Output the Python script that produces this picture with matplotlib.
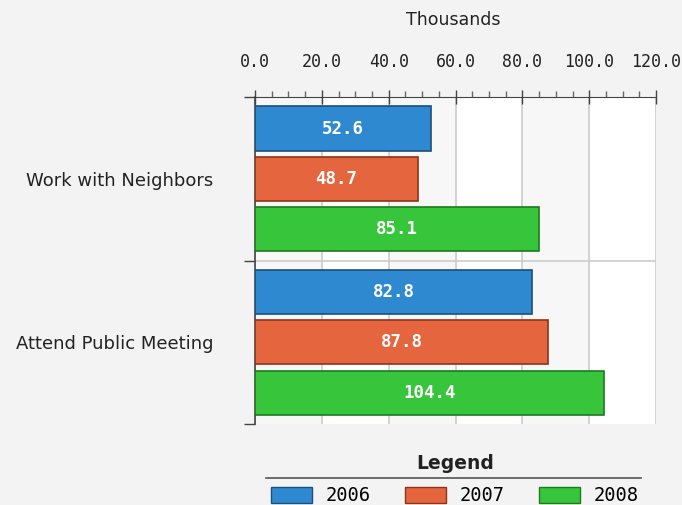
import matplotlib.pyplot as plt
from matplotlib.patches import Patch
from matplotlib.lines import Line2D
import numpy as np

# data (thousands)
categories = ['Work with Neighbors', 'Attend Public Meeting']
years = ['2006', '2007', '2008']
v2006 = [52.6, 82.8]
v2007 = [48.7, 87.8]
v2008 = [85.1, 104.4]
xticks = [0, 20, 40, 60, 80, 100, 120]

colors = ['#2f89d0', '#e5653f', '#37c63b']
edges = ['#1b4f7f', '#8c3418', '#1d7a1f']

fig = plt.figure(figsize=(6.82, 5.05), dpi=100)
fig.patch.set_facecolor('#f3f3f3')
ax = fig.add_axes([0.374, 0.160, 0.588, 0.648])
ax.set_facecolor('white')

# light alternating bands
for i in range(0, len(xticks) - 1, 2):
    ax.axvspan(xticks[i], xticks[i + 1], color='#f7f7f7', zorder=0)

series = [v2006, v2007, v2008]
centers = np.arange(len(categories)) + 0.5
offsets = [-0.307, 0.0, 0.307]
h = 0.27
for k, vals in enumerate(series):
    bars = ax.barh(centers + offsets[k], vals, height=h, color=colors[k],
                   edgecolor=edges[k], linewidth=1.2, zorder=3)
    for b, v in zip(bars, vals):
        ax.text(v / 2, b.get_y() + b.get_height() / 2, f'{v:.1f}',
                ha='center', va='center', color='white', fontsize=12.5,
                fontweight='bold', family='DejaVu Sans Mono', zorder=4)

ax.set_xlim(0, 120)
ax.set_ylim(2, 0)
ax.xaxis.tick_top()
ax.set_xticks(xticks)
ax.set_xticklabels([f'{t:.1f}' for t in xticks], family='DejaVu Sans Mono',
                   fontsize=12, color='#222222')
ax.set_xticks(np.arange(0, 121, 5), minor=True)
ax.tick_params(axis='x', which='major', direction='inout', length=10,
               width=1, color='#444444', pad=14)
ax.tick_params(axis='x', which='minor', direction='out', length=4,
               width=1, color='#666666')
ax.grid(axis='x', which='major', color='#cccccc', linewidth=1.2, zorder=1)

ax.set_yticks([0, 1, 2])
ax.set_yticklabels([])
ax.set_yticks(centers, minor=True)
ax.set_yticklabels(categories, minor=True, fontsize=13, color='#222222')
ax.tick_params(axis='y', which='major', direction='out', length=8,
               width=1, color='#444444')
ax.tick_params(axis='y', which='minor', length=0, pad=30)
ax.axhline(1, color='#cccccc', linewidth=1.2, zorder=1)

for s in ['right', 'bottom']:
    ax.spines[s].set_visible(False)
ax.spines['top'].set_color('#444444')
ax.spines['left'].set_color('#444444')
ax.spines['left'].set_linewidth(1.2)

fig.text(0.664, 0.96, 'Thousands', ha='center', va='center', fontsize=12.5,
         color='#222222')

# legend
handles = [Patch(facecolor=colors[k], edgecolor=edges[k], label=years[k])
           for k in range(3)]
fig.text(0.667, 0.083, 'Legend', ha='center', va='center', fontsize=13.5,
         fontweight='bold', color='#222222')
fig.add_artist(Line2D([0.39, 0.94], [0.053, 0.053], color='#555555',
                      linewidth=1.2, transform=fig.transFigure))
leg = fig.legend(handles=handles, loc='center', bbox_to_anchor=(0.667, 0.018),
                 ncol=3, frameon=False, handlelength=2.2, handleheight=0.9,
                 columnspacing=1.8, handletextpad=0.75,
                 prop={'family': 'DejaVu Sans Mono', 'size': 13.5})

fig.savefig('out.png', dpi=100, facecolor=fig.get_facecolor())
